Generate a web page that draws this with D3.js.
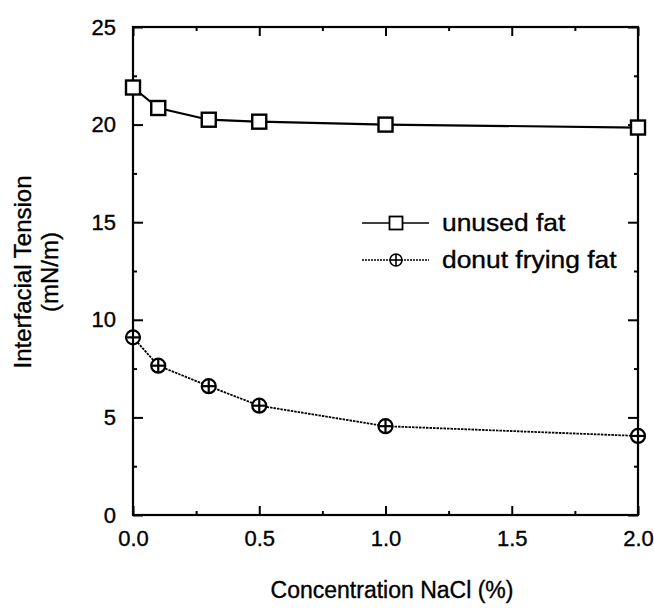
<!DOCTYPE html>
<html><head><meta charset="utf-8">
<script src="https://cdn.jsdelivr.net/npm/d3@7"></script>
<style>body{margin:0;background:#fff}svg{display:block}text{font-family:"Liberation Sans",Arial,Helvetica,sans-serif;fill:#000;stroke:#000;stroke-width:0.35px}</style>
</head><body><div id="c"></div>
<script>
const concentration = [0, 0.1, 0.3, 0.5, 1.0, 2.0];
const unusedFat = [21.9, 20.85, 20.25, 20.15, 20.0, 19.85];
const donutFryingFat = [9.1, 7.65, 6.6, 5.6, 4.55, 4.05];
const xTicks = [0, 0.5, 1.0, 1.5, 2.0];
const xTickLabels = ["0.0", "0.5", "1.0", "1.5", "2.0"];
const xMinor = [0.25, 0.75, 1.25, 1.75];
const yTicks = [0, 5, 10, 15, 20, 25];
const yMinor = [2.5, 7.5, 12.5, 17.5, 22.5];
const seriesNames = ["unused fat", "donut frying fat"];
const xTitle = "Concentration NaCl (%)";
const yTitle = ["Interfacial Tension", "(mN/m)"];

const W = 654, H = 608;
const L = 133, R = 638, T = 27, B = 515;
const svg = d3.select("#c").append("svg").attr("width", W).attr("height", H);
const x = d3.scaleLinear().domain([0, 2]).range([L, R]);
const y = d3.scaleLinear().domain([0, 25]).range([B, T]);

function styleAxis(g) {
  g.select(".domain").remove();
  g.selectAll("line").attr("stroke", "#000").attr("stroke-width", 2);
  g.selectAll("text").attr("font-size", 22).attr("font-family", '"Liberation Sans",Arial,sans-serif').attr("fill", "#000");
}
// bottom axis with labels
svg.append("g").attr("transform", `translate(0,${B})`)
  .call(d3.axisBottom(x).tickValues(xTicks).tickFormat((d, i) => xTickLabels[i]).tickSize(-9).tickPadding(15))
  .call(styleAxis);
svg.append("g").attr("transform", `translate(0,${B})`)
  .call(d3.axisBottom(x).tickValues(xMinor).tickFormat("").tickSize(-4)).call(styleAxis);
// top axis
svg.append("g").attr("transform", `translate(0,${T})`)
  .call(d3.axisTop(x).tickValues(xTicks).tickFormat("").tickSize(-9)).call(styleAxis);
svg.append("g").attr("transform", `translate(0,${T})`)
  .call(d3.axisTop(x).tickValues(xMinor).tickFormat("").tickSize(-4)).call(styleAxis);
// left axis
svg.append("g").attr("transform", `translate(${L},0)`)
  .call(d3.axisLeft(y).tickValues(yTicks).tickFormat(d3.format("d")).tickSize(-10).tickPadding(17))
  .call(styleAxis);
svg.append("g").attr("transform", `translate(${L},0)`)
  .call(d3.axisLeft(y).tickValues(yMinor).tickFormat("").tickSize(-4)).call(styleAxis);
// right axis
svg.append("g").attr("transform", `translate(${R},0)`)
  .call(d3.axisRight(y).tickValues(yTicks).tickFormat("").tickSize(-10)).call(styleAxis);
svg.append("g").attr("transform", `translate(${R},0)`)
  .call(d3.axisRight(y).tickValues(yMinor).tickFormat("").tickSize(-4)).call(styleAxis);

// frame
svg.append("rect").attr("x", L).attr("y", T).attr("width", R - L).attr("height", B - T)
  .attr("fill", "none").attr("stroke", "#000").attr("stroke-width", 2.2);

// titles
svg.append("text").attr("x", 392).attr("y", 598).attr("text-anchor", "middle")
  .attr("font-size", 23).text(xTitle);
const yt = svg.append("g").attr("transform", `translate(0,272) rotate(-90)`);
yt.append("text").attr("x", 0).attr("y", 31).attr("text-anchor", "middle").attr("font-size", 24).text(yTitle[0]);
yt.append("text").attr("x", 0).attr("y", 58).attr("text-anchor", "middle").attr("font-size", 24).text(yTitle[1]);

// series
const line = d3.line().x(d => x(d[0])).y(d => y(d[1]));
const s1 = concentration.map((c, i) => [c, unusedFat[i]]);
const s2 = concentration.map((c, i) => [c, donutFryingFat[i]]);
svg.append("path").datum(s1).attr("d", line).attr("fill", "none").attr("stroke", "#000").attr("stroke-width", 2.2);
svg.append("path").datum(s2).attr("d", line).attr("fill", "none").attr("stroke", "#000").attr("stroke-width", 1.8).attr("stroke-dasharray", "2.5,1");

function square(g, cx, cy, s, sw) {
  g.append("rect").attr("x", cx - s / 2).attr("y", cy - s / 2).attr("width", s).attr("height", s)
    .attr("fill", "#fff").attr("stroke", "#000").attr("stroke-width", sw);
}
function crossCircle(g, cx, cy, r, sw) {
  g.append("circle").attr("cx", cx).attr("cy", cy).attr("r", r).attr("fill", "#fff").attr("stroke", "#000").attr("stroke-width", sw);
  g.append("line").attr("x1", cx - r).attr("x2", cx + r).attr("y1", cy).attr("y2", cy).attr("stroke", "#000").attr("stroke-width", sw);
  g.append("line").attr("x1", cx).attr("x2", cx).attr("y1", cy - r).attr("y2", cy + r).attr("stroke", "#000").attr("stroke-width", sw);
}
const m1 = svg.append("g");
s1.forEach(d => square(m1, x(d[0]), y(d[1]), 14, 2.4));
const m2 = svg.append("g");
s2.forEach(d => crossCircle(m2, x(d[0]), y(d[1]), 7, 2.2));

// legend
const lg = svg.append("g");
lg.append("line").attr("x1", 362).attr("x2", 429).attr("y1", 223).attr("y2", 223).attr("stroke", "#000").attr("stroke-width", 1.5);
square(lg, 396, 223, 13, 1.8);
lg.append("text").attr("transform", "translate(442,231) scale(1.1,1)").attr("font-size", 24).text(seriesNames[0]);
lg.append("line").attr("x1", 362).attr("x2", 429).attr("y1", 260).attr("y2", 260).attr("stroke", "#000").attr("stroke-width", 1.3).attr("stroke-dasharray", "2,1");
crossCircle(lg, 396, 260, 6, 1.6);
lg.append("text").attr("transform", "translate(442,268) scale(1.1,1)").attr("font-size", 24).text(seriesNames[1]);
</script></body></html>
